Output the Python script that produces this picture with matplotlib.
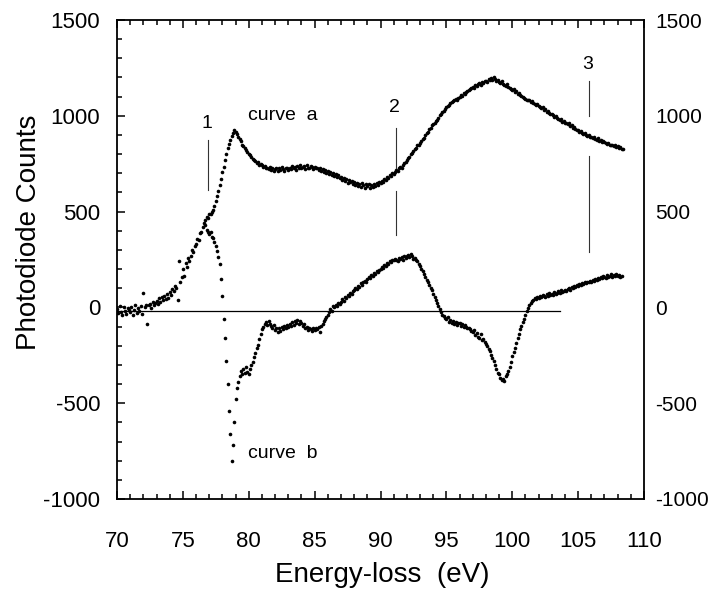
import numpy as np
import matplotlib
matplotlib.use("Agg")
import matplotlib.pyplot as plt
from matplotlib.ticker import MultipleLocator

plt.rcParams['font.family'] = ['Liberation Sans', 'DejaVu Sans']
plt.rcParams['axes.unicode_minus'] = False

# ---- data, 0.1 eV steps ----
a_start = 70.0
a_step = 0.1
curve_a = [
    -10, -30, 5, -25, -40, 0, -20, -35, -5, -15,          # 70
    -25, 0, -40, -15, 10, -30, -5, -20, 5, -35,           # 71
    75, 0, 15, -85, 10, 20, -5, 30, 10, 25,               # 72
    35, 20, 50, 30, 55, 40, 60, 45, 70, 50,               # 73
    80, 65, 95, 85, 110, 100, 40, 240, 130, 160,          # 74
    200, 165, 230, 210, 260, 240, 270, 300, 290, 320,     # 75
    330, 355, 350, 390, 395, 420, 440, 455, 470, 465,     # 76
    485, 490, 500, 510, 530, 555, 580, 605, 640, 670,     # 77
    705, 735, 770, 800, 830, 855, 875, 895, 910, 925,     # 78
    915, 905, 890, 880, 870, 850, 840, 830, 820, 810,     # 79
    800, 795, 785, 775, 770, 765, 755, 760, 745, 750,     # 80
    745, 735, 740, 725, 730, 720, 735, 715, 725, 710,     # 81
    720, 730, 710, 725, 715, 735, 720, 710, 730, 725,     # 82
    715, 730, 720, 740, 725, 735, 715, 740, 730, 745,     # 83
    725, 735, 740, 720, 745, 730, 725, 740, 735, 720,     # 84
    735, 725, 730, 715, 725, 710, 720, 705, 715, 700,     # 85
    710, 695, 705, 690, 700, 685, 695, 680, 690, 675,     # 86
    680, 665, 675, 660, 670, 650, 665, 655, 660, 645,     # 87
    655, 640, 650, 635, 645, 630, 650, 640, 625, 645,     # 88
    635, 645, 625, 640, 630, 645, 635, 650, 640, 655,     # 89
    650, 660, 655, 670, 665, 680, 675, 690, 685, 700,     # 90
    695, 705, 715, 710, 725, 735, 730, 745, 755, 760,     # 91
    770, 780, 785, 800, 805, 815, 825, 830, 845, 850,     # 92
    860, 870, 880, 885, 900, 910, 915, 930, 935, 950,     # 93
    955, 965, 975, 980, 990, 1005, 1010, 1020, 1025, 1035,  # 94
    1045, 1050, 1055, 1065, 1070, 1075, 1080, 1090, 1085, 1095,  # 95
    1100, 1110, 1105, 1120, 1115, 1125, 1130, 1135, 1140, 1145,  # 96
    1150, 1145, 1160, 1155, 1165, 1170, 1160, 1175, 1170, 1180,  # 97
    1180, 1175, 1190, 1185, 1195, 1185, 1200, 1190, 1180, 1185,  # 98
    1175, 1170, 1180, 1165, 1160, 1155, 1165, 1150, 1145, 1140,  # 99
    1135, 1140, 1125, 1130, 1115, 1120, 1110, 1105, 1100, 1095,  # 100
    1090, 1085, 1080, 1085, 1070, 1075, 1065, 1060, 1055, 1060,  # 101
    1050, 1045, 1040, 1045, 1030, 1035, 1020, 1025, 1015, 1010,  # 102
    1010, 1005, 995, 1000, 990, 985, 980, 985, 970, 975,         # 103
    965, 960, 955, 960, 945, 950, 935, 940, 930, 925,            # 104
    925, 915, 920, 910, 905, 910, 900, 895, 900, 890,            # 105
    890, 885, 890, 880, 875, 885, 870, 875, 865, 870,            # 106
    865, 860, 855, 860, 850, 845, 850, 840, 845, 835,            # 107
    840, 830, 835, 825, 828,                                     # 108
]

b_start = 76.7
b_step = 0.1
curve_b = [
    430, 405, 395,                                               # 76.7
    385, 395, 365, 360, 340, 320, 295, 265, 225, 150,            # 77
    60, -60, -160, -280, -400, -540, -660, -800, -720, -600,     # 78
    -480, -420, -390, -360, -330, -345, -320, -340, -310, -335,  # 79
    -345, -320, -300, -285, -260, -240, -210, -195, -165, -140,  # 80
    -115, -100, -85, -75, -90, -70, -85, -95, -105, -90,         # 81
    -120, -110, -130, -105, -125, -100, -115, -95, -110, -90,    # 82
    -100, -85, -95, -75, -90, -70, -80, -65, -85, -70,           # 83
    -80, -95, -85, -110, -100, -120, -105, -115, -125, -110,     # 84
    -120, -105, -115, -100, -130, -95, -85, -70, -60, -50,       # 85
    -40, -25, -10, -20, 5, 0, 15, 5, 25, 20,                     # 86
    30, 45, 35, 55, 50, 65, 60, 75, 70, 85,                      # 87
    90, 100, 95, 110, 105, 125, 115, 130, 140, 135,              # 88
    150, 160, 155, 170, 165, 180, 175, 190, 185, 195,            # 89
    200, 210, 205, 220, 215, 230, 225, 240, 235, 245,            # 90
    245, 255, 250, 240, 260, 255, 265, 250, 270, 260,            # 91
    268, 275, 262, 280, 270, 255, 260, 245, 240, 225,            # 92
    215, 200, 190, 175, 160, 145, 130, 115, 100, 90,             # 93
    70, 55, 40, 25, 5, -10, -25, -40, -45, -55,                  # 94
    -60, -50, -75, -65, -80, -70, -85, -75, -90, -80,            # 95
    -80, -95, -85, -100, -90, -100, -110, -105, -115, -125,      # 96
    -130, -120, -145, -135, -155, -160, -140, -170, -165, -180,  # 97
    -190, -200, -215, -230, -250, -265, -280, -300, -320, -340,  # 98
    -350, -370, -380, -375, -385, -360, -345, -330, -310, -285,  # 99
    -255, -235, -210, -185, -160, -140, -115, -95, -75, -60,     # 100
    -40, -20, -5, 10, 25, 35, 40, 50, 45, 55,                    # 101
    50, 60, 55, 65, 60, 55, 70, 60, 75, 65,                      # 102
    70, 65, 80, 70, 75, 85, 75, 90, 80, 85,                      # 103
    90, 85, 95, 100, 90, 105, 100, 110, 105, 115,                # 104
    110, 120, 115, 125, 120, 130, 125, 135, 130, 140,            # 105
    135, 145, 140, 150, 145, 155, 150, 160, 155, 165,            # 106
    160, 155, 170, 160, 165, 175, 160, 170, 165, 175,            # 107
    165, 170, 160, 165,                                          # 108
]

# feature markers
marker_energy = [76.88, 91.2, 105.85]
marker_labels = ["1", "2", "3"]
marker_label_x = [76.8, 91.09, 105.7]
marker_label_y = [960, 1044, 1270]
marker_segments = [
    [(613, 873)],
    [(730, 935), (380, 610)],
    [(1001, 1183), (288, 792)],
]

baseline_y = -18
baseline_end = 103.6

x_ticks = [70, 75, 80, 85, 90, 95, 100, 105, 110]
y_ticks = [-1000, -500, 0, 500, 1000, 1500]

# ---- figure ----
fig = plt.figure(figsize=(7.1, 5.9), dpi=100)
ax = fig.add_axes([117/710, 91/590, 527/710, 479/590])

ea = np.round(a_start + a_step*np.arange(len(curve_a)), 2)
eb = np.round(b_start + b_step*np.arange(len(curve_b)), 2)

ax.plot(ea, curve_a, 'o', color='black', ms=2.6, mew=0)
ax.plot(eb, curve_b, 'o', color='black', ms=2.6, mew=0)

ax.plot([70, baseline_end], [baseline_y, baseline_y], color='black', lw=0.9)

for e, lab, ly, lx, segs in zip(marker_energy, marker_labels, marker_label_y,
                                marker_label_x, marker_segments):
    for (y0, y1) in segs:
        ax.plot([e, e], [y0, y1], color='#333333', lw=0.8)
    ax.text(lx, ly, lab, ha='center', va='center', fontsize=14)

ax.text(79.94, 1000, "curve  a", ha='left', va='center', fontsize=14)
ax.text(79.94, -764, "curve  b", ha='left', va='center', fontsize=14)

ax.set_xlim(70, 110)
ax.set_ylim(-1000, 1500)
ax.set_xticks(x_ticks)
ax.set_yticks(y_ticks)
ax.xaxis.set_minor_locator(MultipleLocator(1))
ax.yaxis.set_minor_locator(MultipleLocator(100))

ax.tick_params(which='both', direction='in', top=True, right=True,
               labelright=False, width=1.1, labelsize=16)
ax.tick_params(which='major', length=6)
ax.tick_params(which='minor', length=3.5)
ax.tick_params(axis='x', pad=23)
ax.tick_params(axis='y', pad=12)
for s in ax.spines.values():
    s.set_linewidth(1.3)

ax2 = ax.twinx()
ax2.set_ylim(-1000, 1500)
ax2.set_yticks(y_ticks)
ax2.tick_params(which='both', direction='in', length=0, labelsize=15, pad=8)
for s in ax2.spines.values():
    s.set_visible(False)

ax.set_xlabel("Energy-loss  (eV)", fontsize=20)
ax.xaxis.set_label_coords(0.503, -0.159)
ax.xaxis.label.set_va('center')
ax.set_ylabel("Photodiode Counts", fontsize=20)
ax.yaxis.set_label_coords(-0.167, 0.557)
ax.yaxis.label.set_va('center')

fig.savefig("out.png", dpi=100)
